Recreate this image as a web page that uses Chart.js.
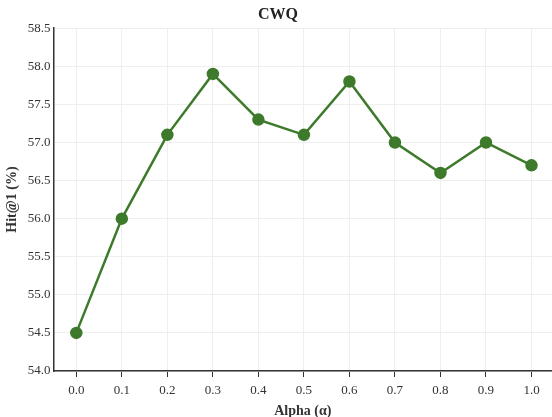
<!DOCTYPE html>
<html>
<head>
<meta charset="utf-8">
<script src="https://cdn.jsdelivr.net/npm/chart.js@4"></script>
<style>
  html, body { margin: 0; padding: 0; background: #fff; }
  #wrap { width: 552px; height: 417px; }
</style>
</head>
<body>
<div id="wrap"><canvas id="cwqChart"></canvas></div>
<script>
const alphas = [0.0, 0.1, 0.2, 0.3, 0.4, 0.5, 0.6, 0.7, 0.8, 0.9, 1.0];
const hitAt1 = [54.5, 56.0, 57.1, 57.9, 57.3, 57.1, 57.8, 57.0, 56.6, 57.0, 56.7];
const yTicks = [54.0, 54.5, 55.0, 55.5, 56.0, 56.5, 57.0, 57.5, 58.0, 58.5];

const green = '#3d7a2b';
const serif = "'Liberation Serif', 'Times New Roman', serif";

new Chart(document.getElementById('cwqChart').getContext('2d'), {
    type: 'line',
    data: {
        datasets: [{
            label: 'CWQ',
            data: alphas.map((a, i) => ({ x: a, y: hitAt1[i] })),
            borderColor: green,
            backgroundColor: green,
            borderWidth: 2.5,
            pointRadius: 5,
            pointHoverRadius: 5,
            tension: 0
        }]
    },
    options: {
        responsive: true,
        maintainAspectRatio: false,
        animation: false,
        layout: { autoPadding: false, padding: { left: 4, right: 0, top: 0, bottom: -1 } },
        plugins: {
            legend: { display: false },
            tooltip: { enabled: false },
            title: {
                display: true,
                text: 'CWQ',
                color: '#222',
                font: { family: serif, size: 16, weight: 'bold' },
                padding: { top: 5, bottom: 4 }
            }
        },
        scales: {
            x: {
                type: 'linear',
                min: -0.05,
                max: 1.045,
                afterBuildTicks: axis => { axis.ticks = alphas.map(v => ({ value: v })); },
                afterFit: axis => { axis.paddingRight = 0; axis.paddingLeft = 0; },
                ticks: {
                    color: '#333',
                    font: { family: serif, size: 13, lineHeight: 1.0 },
                    callback: v => Number(v).toFixed(1),
                    padding: 7
                },
                grid: {
                    color: '#efefef',
                    drawTicks: true,
                    tickLength: 6,
                    tickColor: '#333'
                },
                border: { color: '#333', width: 1.5 },
                title: {
                    display: true,
                    text: 'Alpha (α)',
                    color: '#333',
                    font: { family: serif, size: 14, weight: 'bold', lineHeight: 1.0 },
                    padding: { top: 0, bottom: 0 }
                }
            },
            y: {
                min: 54.0,
                max: 58.5,
                afterBuildTicks: axis => { axis.ticks = yTicks.map(v => ({ value: v })); },
                ticks: {
                    color: '#333',
                    font: { family: serif, size: 13 },
                    callback: v => Number(v).toFixed(1),
                    padding: 3
                },
                grid: {
                    color: '#efefef',
                    drawTicks: false
                },
                border: { color: '#333', width: 1.5 },
                title: {
                    display: true,
                    text: 'Hit@1 (%)',
                    color: '#333',
                    font: { family: serif, size: 14, weight: 'bold' },
                    padding: { top: 0, bottom: 4 }
                }
            }
        }
    }
});
</script>
</body>
</html>
